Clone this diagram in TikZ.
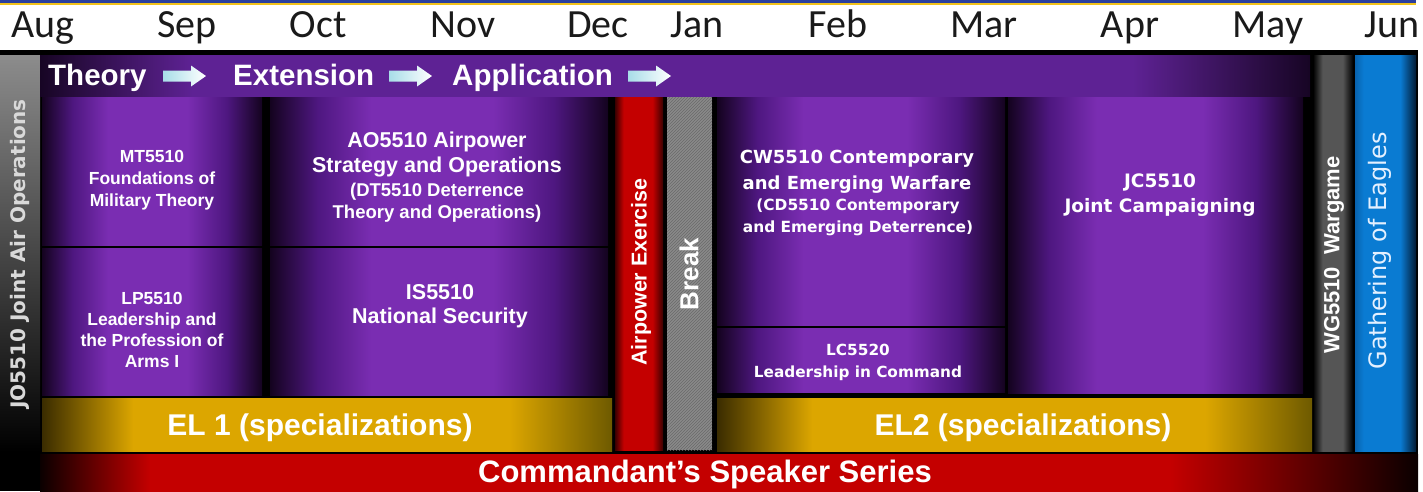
\documentclass[tikz,border=0pt]{standalone}
\usepackage{fontspec}
\setmainfont{Liberation Sans}
\newfontfamily\monthfont{Carlito}
\newfontfamily\vfont{DejaVu Sans}
\usetikzlibrary{patterns}

\definecolor{pdark}{HTML}{14031F}
\definecolor{pmid}{HTML}{4E1780}
\definecolor{pbright}{HTML}{7A2DB2}
\definecolor{bdark}{HTML}{170524}
\definecolor{bmid}{HTML}{5E2294}
\definecolor{golddark}{HTML}{3A2C00}
\definecolor{goldmid}{HTML}{DCA600}
\definecolor{goldolive}{HTML}{6E5A00}
\definecolor{redmain}{HTML}{C40000}
\definecolor{reddark}{HTML}{3A0000}
\definecolor{redblack}{HTML}{0A0000}
\definecolor{bluemain}{HTML}{0A7BD2}
\definecolor{blueleft}{HTML}{0862AE}
\definecolor{bluedark}{HTML}{021A33}
\definecolor{wggray}{HTML}{555555}
\definecolor{breakgray}{HTML}{8A8A8A}
\definecolor{breakline}{HTML}{6A6A6A}
\definecolor{frameblue}{HTML}{2B3F9E}
\definecolor{framegold}{HTML}{F2C21B}
\definecolor{jotop}{HTML}{8C8C8C}
\definecolor{arrowcyan}{HTML}{A8DDE8}
\definecolor{monthcol}{HTML}{1A1A1A}
\definecolor{eaglecol}{HTML}{E4F0FF}

\pgfdeclarehorizontalshading{purplebox}{100bp}{color(0bp)=(pdark); color(25bp)=(pdark); color(32bp)=(pmid); color(40bp)=(pbright); color(58bp)=(pbright); color(67bp)=(pmid); color(75bp)=(pdark); color(100bp)=(pdark)}
\pgfdeclarehorizontalshading{bannershade}{100bp}{color(0bp)=(bdark); color(25bp)=(bdark); color(31bp)=(bmid); color(68bp)=(bmid); color(75bp)=(bdark); color(100bp)=(bdark)}
\pgfdeclarehorizontalshading{goldshade}{100bp}{color(0bp)=(golddark); color(25bp)=(golddark); color(33bp)=(goldmid); color(66bp)=(goldmid); color(75bp)=(goldolive); color(100bp)=(goldolive)}
\pgfdeclarehorizontalshading{redbar}{100bp}{color(0bp)=(reddark); color(25bp)=(reddark); color(34bp)=(redmain); color(64bp)=(redmain); color(75bp)=(reddark); color(100bp)=(reddark)}
\pgfdeclarehorizontalshading{cmdshade}{100bp}{color(0bp)=(redblack); color(25bp)=(redblack); color(29bp)=(redmain); color(66bp)=(redmain); color(75bp)=(redblack); color(100bp)=(redblack)}
\pgfdeclarehorizontalshading{wgshade}{100bp}{color(0bp)=(black); color(25bp)=(black); color(37bp)=(wggray); color(62bp)=(wggray); color(75bp)=(black); color(100bp)=(black)}
\pgfdeclarehorizontalshading{blueshade}{100bp}{color(0bp)=(blueleft); color(25bp)=(blueleft); color(32bp)=(bluemain); color(62bp)=(bluemain); color(75bp)=(bluedark); color(100bp)=(bluedark)}

\newcommand\blockarrow[2]{\shade[left color=arrowcyan, right color=white] (#1,#2) -- ++(0,-5.5) -- ++(28,0) -- ++(0,-5) -- ++(15,10.5) -- ++(-15,10.5) -- ++(0,-5) -- ++(-28,0) -- cycle;}

\begin{document}
\begin{tikzpicture}[x=1pt,y=-1pt,
  box/.style={inner sep=0pt, outer sep=0pt, anchor=north west, draw=none},
  pbox/.style={box, shading=purplebox},
  month/.style={anchor=base, inner sep=0pt, text=monthcol, font=\monthfont\fontsize{40}{40}\selectfont},
  bannertxt/.style={anchor=base west, inner sep=0pt, text=white, font=\fontsize{29.5}{30}\selectfont\bfseries},
  ctxt/.style={inner sep=0pt, text=white, align=center},
  vtxt/.style={inner sep=0pt, text=white, rotate=90}
]
\useasboundingbox (0,0) rectangle (1423,491);
\fill[white] (0,0) rectangle (1423,491);
\fill[frameblue] (0,0) rectangle (1416,2.5);
\fill[framegold] (0,2.5) rectangle (1416,4.5);
\fill[black] (0,50) rectangle (1418,491);

% months
\node[month] (m1) at (43,37) {Aug};
\node[month] (m2) at (187,37) {Sep};
\node[month] (m3) at (318,37) {Oct};
\node[month] (m4) at (463,37) {Nov};
\node[month] (m5) at (598,37) {Dec};
\node[month] (m6) at (697,37) {Jan};
\node[month] (m7) at (838,37) {Feb};
\node[month] (m8) at (984,37) {Mar};
\node[month] (m9) at (1130,37) {Apr};
\node[month] (m10) at (1268,37) {May};
\node[month] (m11) at (1392,37) {Jun};

% bars and boxes
\node[box, top color=jotop, bottom color=black, minimum width=40pt, minimum height=397pt] (jo) at (0,55) {};
\node[box, shading=bannershade, minimum width=1270pt, minimum height=41pt] (banner) at (40,55) {};
\node[pbox, minimum width=220pt, minimum height=148pt] (mtbox) at (42,97) {};
\node[pbox, minimum width=220pt, minimum height=147pt] (lpbox) at (42,248) {};
\node[pbox, minimum width=338pt, minimum height=148pt] (aobox) at (270,97) {};
\node[pbox, minimum width=338pt, minimum height=147pt] (isbox) at (270,248) {};
\node[box, shading=goldshade, minimum width=570pt, minimum height=53pt] (el1) at (42,398) {};
\node[box, shading=redbar, minimum width=48pt, minimum height=353pt] (air) at (615,97) {};
\node[box, fill=breakgray, postaction={pattern=north east lines, pattern color=breakline}, minimum width=45pt, minimum height=353pt] (brk) at (667,97) {};
\node[pbox, minimum width=288pt, minimum height=228pt] (cwbox) at (717,97) {};
\node[pbox, minimum width=288pt, minimum height=64pt] (lcbox) at (717,328) {};
\node[pbox, minimum width=295pt, minimum height=296pt] (jcbox) at (1008,97) {};
\node[box, shading=goldshade, minimum width=595pt, minimum height=53pt] (el2) at (717,398) {};
\node[box, shading=wgshade, minimum width=40pt, minimum height=396pt] (wg) at (1313,55) {};
\node[box, shading=blueshade, minimum width=61pt, minimum height=396pt] (eag) at (1355,55) {};
\node[box, shading=cmdshade, minimum width=1378pt, minimum height=37pt] (cmd) at (40,454) {};

% banner
\node[bannertxt] (t1) at (48,85) {Theory};
\node[bannertxt] (t2) at (233,85) {Extension};
\node[bannertxt] (t3) at (452,85) {Application};
\blockarrow{163}{76}
\blockarrow{389}{76}
\blockarrow{628}{76}

% course texts
\node[ctxt, font=\fontsize{17.5}{22}\selectfont\bfseries] (mt) at (152,180) {MT5510\\Foundations of\\Military Theory};
\node[ctxt, font=\fontsize{17.5}{21}\selectfont\bfseries] (lp) at (152,330) {LP5510\\Leadership and\\the Profession of\\Arms I};
\node[ctxt, font=\fontsize{21.5}{25}\selectfont\bfseries] (ao) at (437,154.5) {AO5510 Airpower\\Strategy and Operations};
\node[ctxt, font=\fontsize{18.5}{22}\selectfont\bfseries] (dt) at (437,203) {(DT5510 Deterrence\\Theory and Operations)};
\node[ctxt, font=\fontsize{21.5}{24}\selectfont\bfseries] (is) at (440,306) {IS5510\\National Security};
\node[ctxt, font=\vfont\fontsize{18}{26}\selectfont\bfseries] (cw) at (857,172) {CW5510 Contemporary\\and Emerging Warfare};
\node[ctxt, font=\vfont\fontsize{15.4}{22}\selectfont\bfseries] (cd) at (858,217) {(CD5510 Contemporary\\and Emerging Deterrence)};
\node[ctxt, font=\vfont\fontsize{15.3}{22}\selectfont\bfseries] (lc) at (858,362) {LC5520\\Leadership in Command};
\node[ctxt, font=\vfont\fontsize{18.5}{25}\selectfont\bfseries] (jc) at (1160,195.5) {JC5510\\Joint Campaigning};

% bars text
\node[anchor=base, inner sep=0pt, text=white, font=\fontsize{30}{30}\selectfont\bfseries] (el1t) at (320,435) {EL 1 (specializations)};
\node[anchor=base, inner sep=0pt, text=white, font=\fontsize{30}{30}\selectfont\bfseries] (el2t) at (1023,435) {EL2 (specializations)};
\node[anchor=base, inner sep=0pt, text=white, font=\fontsize{31}{31}\selectfont\bfseries] (cmdt) at (705,482) {Commandant’s Speaker Series};
\node[vtxt, font=\fontsize{21.5}{22}\selectfont\bfseries] (airt) at (641,272) {Airpower Exercise};
\node[vtxt, font=\fontsize{26}{26}\selectfont\bfseries] (brkt) at (689,274) {Break};
\node[vtxt, font=\fontsize{22}{22}\selectfont\bfseries] (wgt) at (1334,255) {WG5510\ \ Wargame};
\node[vtxt, text=eaglecol, font=\vfont\fontsize{24}{24}\selectfont] (eagt) at (1380,251) {Gathering of Eagles};
\node[vtxt, text=white!85!black, font=\vfont\fontsize{20}{20}\selectfont\bfseries] (jot) at (20,254) {JO5510 Joint Air Operations};
\end{tikzpicture}
\end{document}
